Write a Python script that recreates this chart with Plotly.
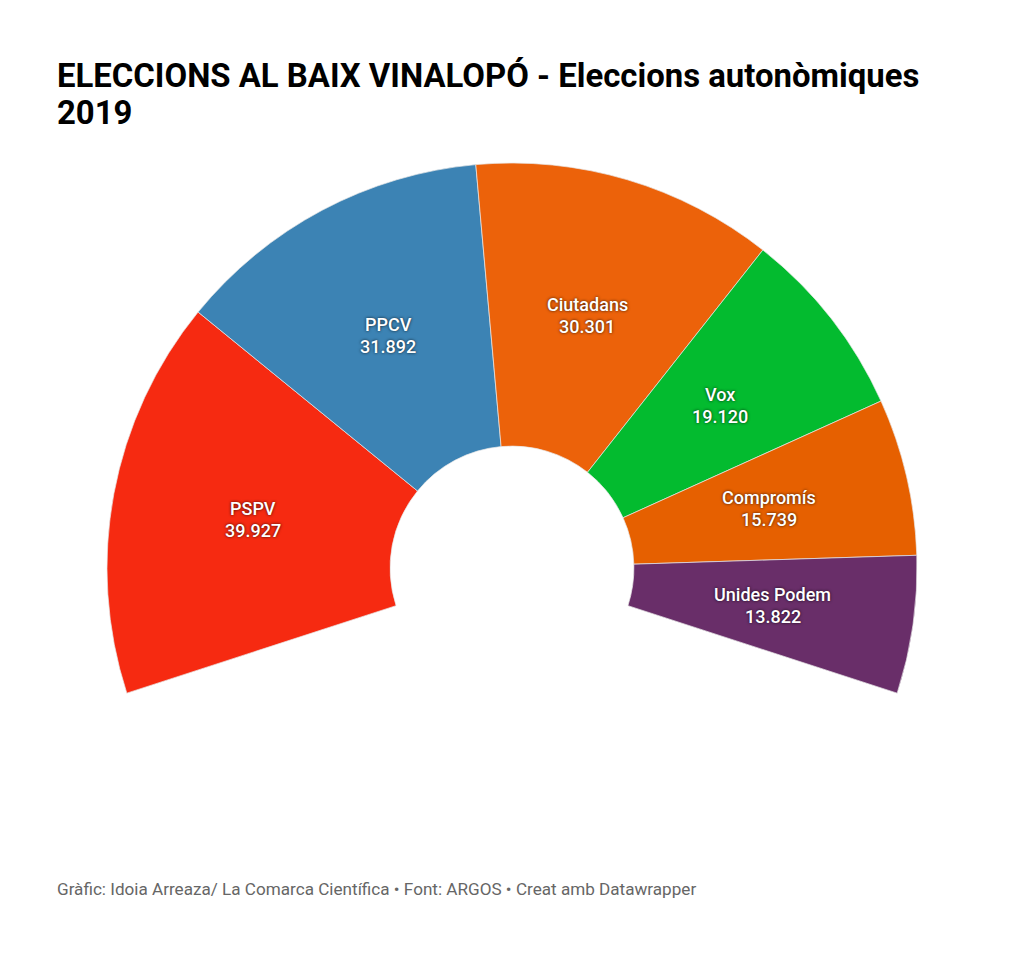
import math
import plotly.graph_objects as go

parties = ["PSPV", "PPCV", "Ciutadans", "Vox", "Compromís", "Unides Podem"]
votes = [39927, 31892, 30301, 19120, 15739, 13822]
colors = ["#f62a11", "#3c83b4", "#ec620a", "#03bb2f", "#e66000", "#692e69"]
title_lines = ["ELECCIONS AL BAIX VINALOPÓ - Eleccions autonòmiques", "2019"]
footer = "Gràfic: Idoia Arreaza/ La Comarca Científica • Font: ARGOS • Creat amb Datawrapper"

W, H = 1024, 980
TOP, BOTTOM, LEFT, RIGHT = 163, 973, 107, 917
SWEEP, START = 216, -108
HOLE = 0.301
R = (RIGHT - LEFT) / 2
CX, CY = (LEFT + RIGHT) / 2, (TOP + BOTTOM) / 2
total = sum(votes)
gap = total * (360 - SWEEP) / SWEEP  # hidden part of the ring


def px(x, y):
    return dict(x=x / W, y=1 - y / H, xref="paper", yref="paper", showarrow=False)


annotations = []
cum = 0
mid_r = R * (1 + HOLE) / 2
for p, v in zip(parties, votes):
    a = math.radians(START + (cum + v / 2) / total * SWEEP)
    cum += v
    lx, ly = CX + mid_r * math.sin(a), CY - mid_r * math.cos(a)
    for text, dy in [(p, -11), (f"{v / 1000:.3f}", 11)]:
        annotations.append(dict(
            **px(lx, ly + dy), text=text, xanchor="center", yanchor="middle", align="center",
            font=dict(family="Roboto", size=18, color="white", weight=500,
                      shadow="0 0 3px rgba(0,0,0,0.8)"),
        ))
for line, y in zip(title_lines, [75.5, 113]):
    annotations.append(dict(
        **px(55, y), text=f"<b>{line}</b>", xanchor="left", yanchor="middle", align="left",
        font=dict(family="Roboto", size=32.9, color="#000000"),
    ))
annotations.append(dict(
    **px(55, 889), text=footer, xanchor="left", yanchor="middle", align="left",
    font=dict(family="Roboto", size=17.13, color="#666666"),
))

fig = go.Figure(go.Pie(
    values=votes + [gap],
    textinfo="none",
    hoverinfo="none",
    sort=False,
    direction="clockwise",
    rotation=START,
    hole=HOLE,
    marker=dict(colors=colors + ["rgba(0,0,0,0)"],
                line=dict(color=["#e8e8e8"] * 6 + ["rgba(0,0,0,0)"], width=0.7)),
    domain=dict(x=[LEFT / W, RIGHT / W], y=[1 - BOTTOM / H, 1 - TOP / H]),
    showlegend=False,
))
fig.update_layout(
    width=W, height=H, margin=dict(l=0, r=0, t=0, b=0),
    paper_bgcolor="white", font=dict(family="Roboto"),
    annotations=annotations,
)
fig.write_html("out.html", config={"displayModeBar": False},
               post_script="document.body.style.margin='0';document.documentElement.style.overflow='hidden';")
